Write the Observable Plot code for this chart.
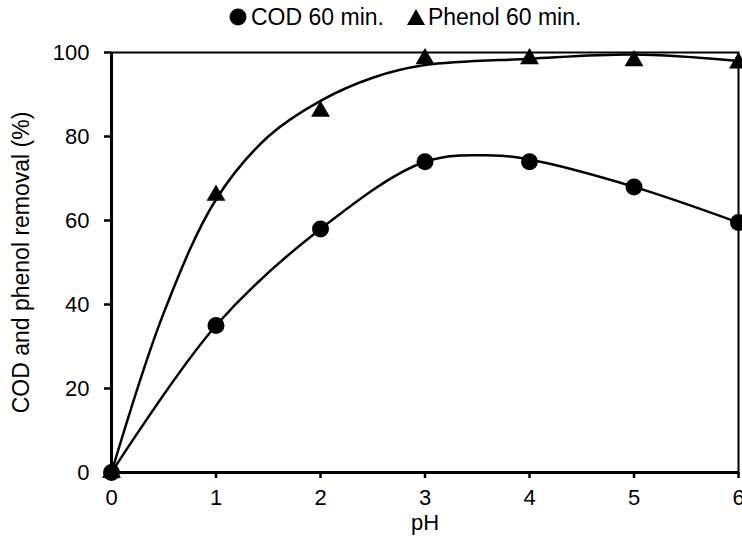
<!DOCTYPE html>
<html><head><meta charset="utf-8">
<script src="https://cdn.jsdelivr.net/npm/d3@7"></script>
<script src="https://cdn.jsdelivr.net/npm/@observablehq/plot@0.6"></script>
<style>
body{margin:0;background:#fff;font-family:"Liberation Sans",Arial,sans-serif;}
#legend{height:34px;display:flex;align-items:center;padding-left:229px;font-size:23px;color:#000;}
#legend span{display:inline-flex;align-items:center;}
#chart svg{display:block;}
</style></head><body>
<div id="legend"></div>
<div id="chart"></div>
<script>
const pH = [0, 1, 2, 3, 4, 5, 6];
const cod = [0, 35, 58, 74, 74, 68, 59.5];
const phenol = [0, 66, 86, 98.5, 98.5, 98, 97.5];
// smooth fitted curves
const codFitX = [0, 1, 2, 3, 3.65, 4, 5, 6];
const codFitY = [0, 35, 58, 74, 75.5, 74.5, 68, 59.5];
const phenolFitX = [0, 0.5, 1, 1.5, 2, 2.5, 3, 4, 5, 6];
const phenolFitY = [0, 38, 65, 80, 88.5, 94, 97, 98.5, 99.5, 98];
const xTicks = [0, 1, 2, 3, 4, 5, 6];
const yTicks = [0, 20, 40, 60, 80, 100];
const seriesNames = ["COD 60 min.", "Phenol 60 min."];

const codData = pH.map((x, i) => ({x, y: cod[i]}));
const phenolData = pH.map((x, i) => ({x, y: phenol[i]}));
const codFit = codFitX.map((x, i) => ({x, y: codFitY[i]}));
const phenolFit = phenolFitX.map((x, i) => ({x, y: phenolFitY[i]}));

// legend
const lg = document.getElementById("legend");
lg.innerHTML =
  `<span><svg width="18" height="18"><circle cx="9" cy="9" r="8.5" fill="#000"/></svg></span>` +
  `<span style="margin-left:4px">${seriesNames[0]}</span>` +
  `<span style="margin-left:22px"><svg width="20" height="18"><path d="M10,1 L19,17 L1,17 Z" fill="#000"/></svg></span>` +
  `<span style="margin-left:2px">${seriesNames[1]}</span>`;

const chart = Plot.plot({
  width: 742,
  height: 505,
  marginLeft: 111,
  marginRight: 4,
  marginTop: 18,
  marginBottom: 67,
  style: {fontFamily: "Liberation Sans, Arial, sans-serif", fontSize: "22px", color: "#000", background: "#fff", overflow: "hidden"},
  x: {domain: [0, 6]},
  y: {domain: [0, 100]},
  marks: [
    Plot.frame({stroke: "#000", strokeWidth: 2}),
    Plot.axisY({ticks: yTicks, tickFormat: "d", tickSize: 7, tickPadding: 15, strokeWidth: 2.5, fontSize: 22, label: null}),
    Plot.axisY({ticks: [], label: "COD and phenol removal (%)", labelAnchor: "center", labelArrow: "none", labelOffset: 99, fontSize: 23}),
    Plot.axisX({ticks: xTicks, tickFormat: "d", tickSize: 6, tickPadding: 11, strokeWidth: 2.5, fontSize: 22,
      label: "pH", labelAnchor: "center", labelArrow: "none", labelOffset: 57}),
    Plot.ruleY([0], {stroke: "#000", strokeWidth: 3}),
    Plot.ruleX([0], {stroke: "#000", strokeWidth: 3}),
    Plot.line(codFit, {x: "x", y: "y", curve: "catmull-rom", stroke: "#000", strokeWidth: 2.5}),
    Plot.line(phenolFit, {x: "x", y: "y", curve: "catmull-rom", stroke: "#000", strokeWidth: 2.5}),
    Plot.dot(codData, {x: "x", y: "y", r: 8.5, fill: "#000", symbol: "circle"}),
    Plot.dot(phenolData, {x: "x", y: "y", r: 7, fill: "#000", symbol: "triangle"})
  ]
});
document.getElementById("chart").appendChild(chart);
</script>
</body></html>
